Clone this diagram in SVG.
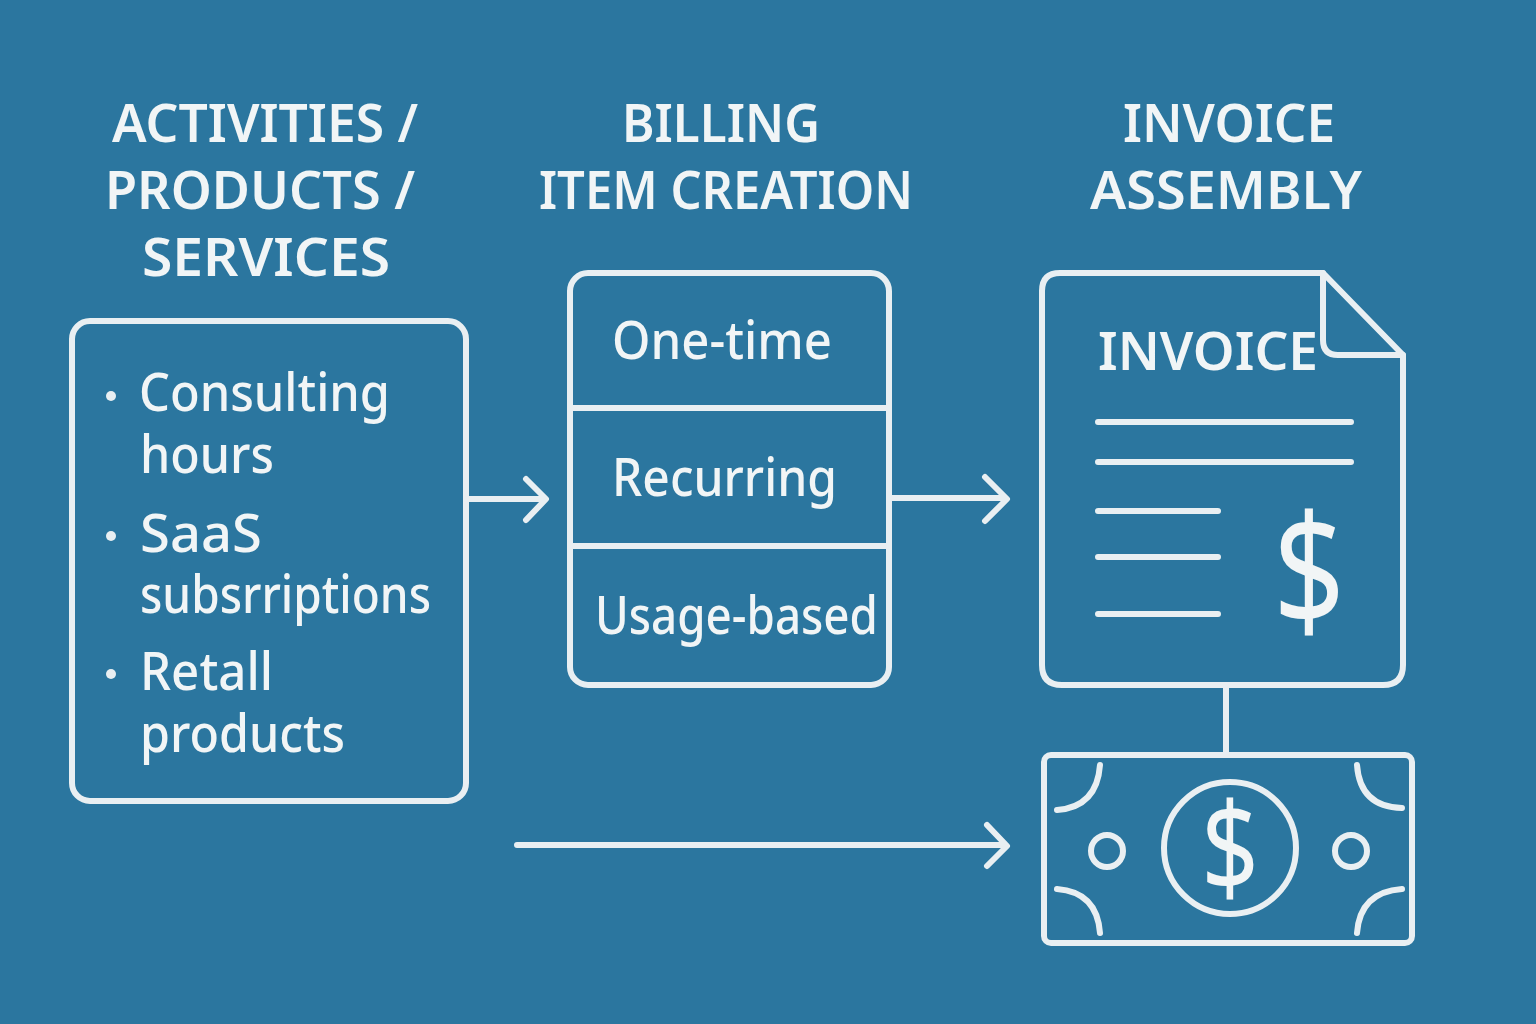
<svg xmlns="http://www.w3.org/2000/svg" width="1536" height="1024" viewBox="0 0 1536 1024">
<style>
.l{fill:none;stroke:#e9eff2;stroke-width:6;stroke-linecap:round;stroke-linejoin:round}
.t{fill:#f1f5f6;font-family:"Noto Sans","Open Sans",sans-serif}
.h{font-size:52px;font-weight:600;text-anchor:middle}
.b{font-size:52px;font-weight:500}
.d{font-weight:400;text-anchor:middle}
</style>
<rect width="1536" height="1024" fill="#2b769f"/>
<g id="head1"><text class="t h" x="265" y="142" textLength="306" lengthAdjust="spacingAndGlyphs">ACTIVITIES /</text><text class="t h" x="260" y="209" textLength="310" lengthAdjust="spacingAndGlyphs">PRODUCTS /</text><text class="t h" x="266" y="276" textLength="248" lengthAdjust="spacingAndGlyphs">SERVICES</text></g>
<g id="head2"><text class="t h" x="721" y="142" textLength="198" lengthAdjust="spacingAndGlyphs">BILLING</text><text class="t h" x="726" y="209" textLength="374" lengthAdjust="spacingAndGlyphs">ITEM CREATION</text></g>
<g id="head3"><text class="t h" x="1229" y="142" textLength="212" lengthAdjust="spacingAndGlyphs">INVOICE</text><text class="t h" x="1226" y="209" textLength="272" lengthAdjust="spacingAndGlyphs">ASSEMBLY</text></g>
<g id="activities">
<rect class="l" x="72" y="321" width="394" height="480" rx="18"/>
<circle cx="111" cy="396" r="5" fill="#e9eff2"/><circle cx="111" cy="536" r="5" fill="#e9eff2"/><circle cx="111" cy="674" r="5" fill="#e9eff2"/>
<text class="t b" x="139" y="411" textLength="251" lengthAdjust="spacingAndGlyphs">Consulting</text>
<text class="t b" x="140" y="473" textLength="134" lengthAdjust="spacingAndGlyphs">hours</text>
<text class="t b" x="140" y="552" textLength="122" lengthAdjust="spacingAndGlyphs">SaaS</text>
<text class="t b" x="140" y="613" textLength="291" lengthAdjust="spacingAndGlyphs">subsrriptions</text>
<text class="t b" x="140" y="690" textLength="133" lengthAdjust="spacingAndGlyphs">Retall</text>
<text class="t b" x="140" y="752" textLength="205" lengthAdjust="spacingAndGlyphs">products</text>
</g>
<g id="billing">
<rect class="l" x="570" y="273" width="319" height="412" rx="18"/>
<path class="l" d="M572 408H887M572 546H887"/>
<text class="t b" x="612" y="359" textLength="220" lengthAdjust="spacingAndGlyphs">One-time</text>
<text class="t b" x="612" y="496" textLength="225" lengthAdjust="spacingAndGlyphs">Recurring</text>
<text class="t b" x="595" y="634" textLength="283" lengthAdjust="spacingAndGlyphs">Usage-based</text>
</g>
<g id="invoice">
<path class="l" d="M1060 273H1323L1403 355V665Q1403 685 1383 685H1062Q1042 685 1042 665V291Q1042 273 1060 273Z"/>
<path class="l" d="M1323 273V340Q1323 355 1338 355H1403"/>
<text class="t h" x="1208" y="370" textLength="220" lengthAdjust="spacingAndGlyphs">INVOICE</text>
<path class="l" d="M1098 422H1351M1098 462H1351M1098 511H1218M1098 557H1218M1098 614H1218"/>
<text class="t d" x="1309" y="627" font-size="156" textLength="72" lengthAdjust="spacingAndGlyphs">$</text>
</g>
<g id="money">
<rect class="l" x="1044" y="755" width="368" height="188" rx="7"/>
<circle class="l" cx="1230" cy="848" r="66"/>
<text class="t d" x="1230" y="892" font-size="124" textLength="58" lengthAdjust="spacingAndGlyphs">$</text>
<circle class="l" cx="1107" cy="851" r="16"/><circle class="l" cx="1351" cy="851" r="16"/>
<path class="l" d="M1100 765Q1097 807 1057 810M1357 765Q1360 807 1402 808M1057 889Q1097 892 1100 933M1402 889Q1360 892 1357 933"/>
</g>
<g id="connectors">
<path class="l" d="M469 499H544M526 479L546 499L526 520"/>
<path class="l" d="M892 498H1005M985 477L1007 499L985 521"/>
<path class="l" d="M517 845H1005M987 825L1007 846L987 866"/>
<path class="l" d="M1226 687V755"/>
</g>
</svg>
